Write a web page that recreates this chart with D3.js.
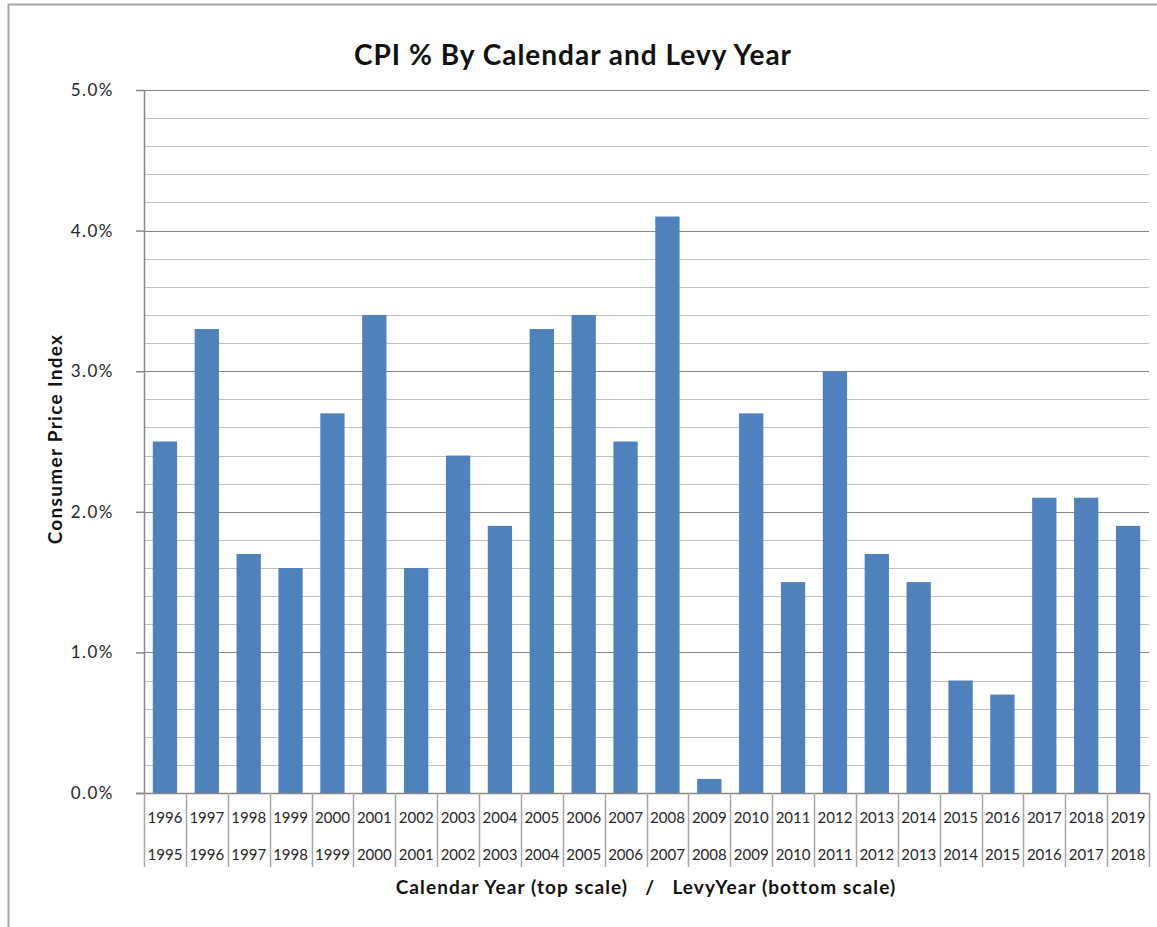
<!DOCTYPE html>
<html>
<head>
<meta charset="utf-8">
<script src="https://d3js.org/d3.v7.min.js"></script>
<style>
  body { margin: 0; background: #fff; }
  text { font-family: Lato, "Noto Sans", sans-serif; }
</style>
</head>
<body>
<svg id="chart" width="1157" height="927"></svg>
<script>
    // calendar year (top scale) / levy year (bottom scale)
    var calendarYears = ["1996", "1997", "1998", "1999", "2000", "2001", "2002", "2003", "2004", "2005", "2006", "2007",
        "2008", "2009", "2010", "2011", "2012", "2013", "2014", "2015", "2016", "2017", "2018", "2019"];
    var levyYears = ["1995", "1996", "1997", "1998", "1999", "2000", "2001", "2002", "2003", "2004", "2005", "2006",
        "2007", "2008", "2009", "2010", "2011", "2012", "2013", "2014", "2015", "2016", "2017", "2018"];
    var cpi = [2.5, 3.3, 1.7, 1.6, 2.7, 3.4, 1.6, 2.4, 1.9, 3.3, 3.4, 2.5,
        4.1, 0.1, 2.7, 1.5, 3.0, 1.7, 1.5, 0.8, 0.7, 2.1, 2.1, 1.9];
    var majorTicks = [0, 1, 2, 3, 4, 5];

    var svg = d3.select("#chart");
    var plotLeft = 144, plotRight = 1149, plotTop = 90, plotBottom = 793;

    // outer chart frame
    svg.append("path")
        .attr("d", "M8.5,927 L8.5,4.5 L1157,4.5")
        .attr("fill", "none")
        .attr("stroke", "#a6a6a6")
        .attr("stroke-width", 2);

    var x = d3.scaleBand().domain(calendarYears).range([plotLeft, plotRight])
        .paddingInner(0.42).paddingOuter(0.21);
    var xCell = d3.scaleBand().domain(calendarYears).range([plotLeft, plotRight]);
    var y = d3.scaleLinear().domain([0, 5]).range([plotBottom, plotTop]);

    // minor gridlines every 0.2%
    var minor = d3.range(0, 26).map(function (i) { return i * 0.2; })
        .filter(function (v) { return Math.abs(v - Math.round(v)) > 1e-6; });
    svg.append("g").selectAll("line").data(minor).enter().append("line")
        .attr("x1", plotLeft).attr("x2", plotRight)
        .attr("y1", function (d) { return Math.round(y(d)) + 0.5; })
        .attr("y2", function (d) { return Math.round(y(d)) + 0.5; })
        .attr("stroke", "#bfbfbf").attr("stroke-width", 1.2);

    // major gridlines
    svg.append("g").selectAll("line").data(majorTicks.slice(1)).enter().append("line")
        .attr("x1", plotLeft).attr("x2", plotRight)
        .attr("y1", function (d) { return Math.round(y(d)) + 0.5; })
        .attr("y2", function (d) { return Math.round(y(d)) + 0.5; })
        .attr("stroke", "#868686").attr("stroke-width", 1.2);

    // bars
    svg.append("g").selectAll("rect").data(cpi).enter().append("rect")
        .attr("x", function (d, i) { return x(calendarYears[i]); })
        .attr("width", x.bandwidth())
        .attr("y", function (d) { return y(d); })
        .attr("height", function (d) { return y(0) - y(d); })
        .attr("fill", "#4f81bd");

    // y axis
    var yAxis = svg.append("g")
        .attr("transform", "translate(" + plotLeft + ",0)")
        .call(d3.axisLeft(y).tickValues(majorTicks).tickSize(8).tickPadding(22)
            .tickFormat(function (d) { return d.toFixed(1) + "%"; }));
    yAxis.selectAll("path, line").attr("stroke", "#868686").attr("stroke-width", 1.5);
    yAxis.select(".domain").attr("d", "M0.5," + plotTop + "V" + plotBottom);
    yAxis.selectAll("text")
        .style("font-family", "Lato, 'Noto Sans', sans-serif")
        .style("letter-spacing", "1.5px")
        .attr("font-size", 17).attr("fill", "#262626");

    // x axis baseline
    svg.append("line")
        .attr("x1", plotLeft - 8).attr("x2", plotRight)
        .attr("y1", plotBottom + 0.5).attr("y2", plotBottom + 0.5)
        .attr("stroke", "#868686").attr("stroke-width", 1.5);

    // category separators through both label rows
    var edges = calendarYears.map(function (c) { return xCell(c); }).concat([plotRight]);
    svg.append("g").selectAll("line").data(edges).enter().append("line")
        .attr("x1", function (d) { return Math.round(d) + 0.5; })
        .attr("x2", function (d) { return Math.round(d) + 0.5; })
        .attr("y1", plotBottom).attr("y2", 867)
        .attr("stroke", "#a6a6a6").attr("stroke-width", 1.5);

    // two label rows
    var rows = [{labels: calendarYears, y: 823}, {labels: levyYears, y: 860}];
    rows.forEach(function (row) {
        svg.append("g").selectAll("text").data(row.labels).enter().append("text")
            .attr("x", function (d, i) { return xCell(calendarYears[i]) + xCell.bandwidth() / 2; })
            .attr("y", row.y)
            .attr("text-anchor", "middle")
            .attr("font-size", 15)
            .attr("fill", "#262626")
            .text(function (d) { return d; });
    });

    // titles
    svg.append("text")
        .attr("x", 573).attr("y", 65)
        .attr("text-anchor", "middle")
        .attr("font-size", 28).attr("font-weight", "bold")
        .style("letter-spacing", "1px")
        .attr("fill", "#111")
        .text("CPI % By Calendar and Levy Year");

    svg.append("text")
        .attr("x", 646).attr("y", 894)
        .attr("text-anchor", "middle")
        .attr("font-size", 19).attr("font-weight", "bold")
        .style("letter-spacing", "1.1px")
        .attr("fill", "#111")
        .attr("xml:space", "preserve")
        .text("Calendar Year (top scale)   /   LevyYear (bottom scale)");

    svg.append("text")
        .attr("transform", "translate(62,439) rotate(-90)")
        .attr("text-anchor", "middle")
        .attr("font-size", 19).attr("font-weight", "bold")
        .style("letter-spacing", "1.3px")
        .attr("fill", "#111")
        .text("Consumer Price Index");
</script>
</body>
</html>
